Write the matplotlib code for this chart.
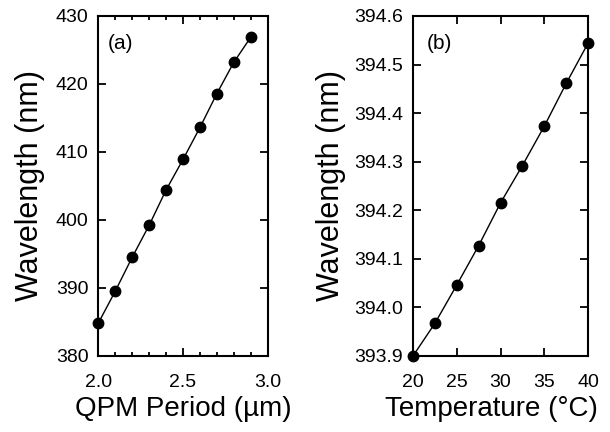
import matplotlib
matplotlib.use("Agg")
import matplotlib.pyplot as plt
from matplotlib.ticker import MultipleLocator, FormatStrFormatter

plt.rcParams['font.family'] = ['Liberation Sans', 'DejaVu Sans']

# panel (a): wavelength vs QPM period
period = [2.0, 2.1, 2.2, 2.3, 2.4, 2.5, 2.6, 2.7, 2.8, 2.9]
wl_a = [384.8, 389.5, 394.5, 399.2, 404.4, 408.9, 413.6, 418.6, 423.2, 426.9]

# panel (b): wavelength vs temperature
temp = [20, 22.5, 25, 27.5, 30, 32.5, 35, 37.5, 40]
wl_b = [393.90, 393.967, 394.046, 394.127, 394.215, 394.292, 394.373, 394.461, 394.544]

fig = plt.figure(figsize=(6.1, 4.32), dpi=100)
ax1 = fig.add_axes([0.161, 0.176, 0.278, 0.787])
ax2 = fig.add_axes([0.677, 0.176, 0.287, 0.787])

def style(ax):
    for s in ax.spines.values():
        s.set_linewidth(1.5)
    ax.tick_params(which='both', direction='in', top=True, right=True,
                   labelsize=14, width=1.3)
    ax.tick_params(axis='y', pad=7)
    ax.tick_params(axis='x', pad=13)
    ax.tick_params(which='major', length=6)
    ax.tick_params(which='minor', length=3)

ax1.plot(period, wl_a, color='black', lw=1.0, marker='o', ms=7.5, clip_on=False)
ax1.set_xlim(2.0, 3.0)
ax1.set_ylim(380, 430)
ax1.xaxis.set_major_locator(MultipleLocator(0.5))
ax1.xaxis.set_minor_locator(MultipleLocator(0.1))
ax1.yaxis.set_major_locator(MultipleLocator(10))
ax1.xaxis.set_major_formatter(FormatStrFormatter('%.1f'))
ax1.set_xlabel('QPM Period (µm)', fontsize=20)
ax1.xaxis.set_label_coords(0.5, -0.117)
ax1.set_ylabel('Wavelength (nm)', fontsize=22, labelpad=8)
ax1.text(0.055, 0.92, '(a)', transform=ax1.transAxes, fontsize=15, va='center')
style(ax1)

ax2.plot(temp, wl_b, color='black', lw=1.0, marker='o', ms=7.5, clip_on=False)
ax2.set_xlim(20, 40)
ax2.set_ylim(393.9, 394.6)
ax2.xaxis.set_major_locator(MultipleLocator(5))
ax2.yaxis.set_major_locator(MultipleLocator(0.1))
ax2.yaxis.set_major_formatter(FormatStrFormatter('%.1f'))
ax2.set_xlabel('Temperature (°C)', fontsize=20)
ax2.xaxis.set_label_coords(0.45, -0.117)
ax2.set_ylabel('Wavelength (nm)', fontsize=22, labelpad=6)
ax2.text(0.08, 0.92, '(b)', transform=ax2.transAxes, fontsize=15, va='center')
style(ax2)

fig.savefig('out.png', dpi=100)
